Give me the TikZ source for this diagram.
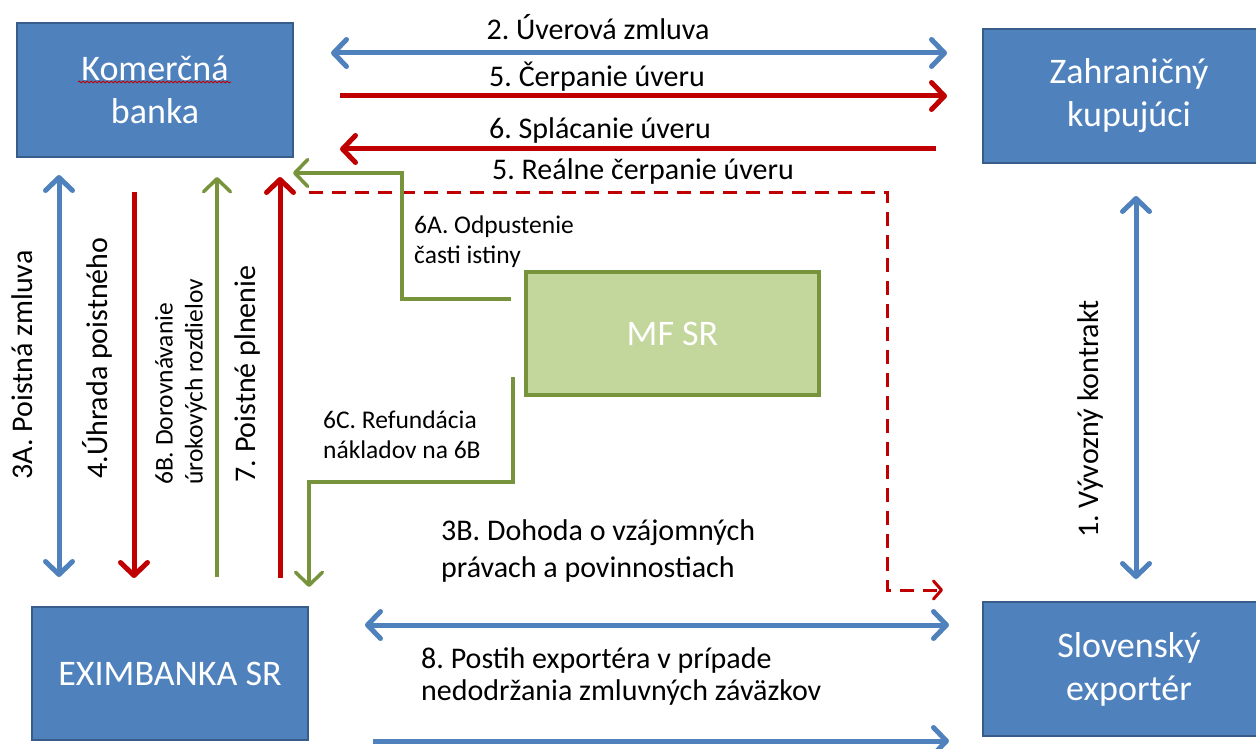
\documentclass[tikz,border=0pt]{standalone}
\usepackage{fontspec}
\setmainfont{Carlito}
\usetikzlibrary{arrows.meta,decorations.pathmorphing}
\definecolor{boxblue}{HTML}{4F81BD}
\definecolor{boxedge}{HTML}{385D8A}
\definecolor{arrred}{HTML}{C00000}
\definecolor{arrgreen}{HTML}{77933C}
\definecolor{mffill}{HTML}{C3D69B}
\frenchspacing
\tikzset{
  pbarb/.tip={Straight Barb[length=13pt,width=27pt,round]},
  sbarb/.tip={Straight Barb[length=8pt,width=18pt,round]},
  entity/.style={draw=boxedge, line width=2.5pt, fill=boxblue, text=white, align=center,
    font=\fontsize{36}{43}\selectfont, inner sep=0pt},
  mfbox/.style={draw=arrgreen, line width=4pt, fill=mffill, text=white, align=center,
    font=\fontsize{36}{43}\selectfont, inner sep=0pt},
  bluearr/.style={draw=boxblue, line width=5pt},
  redarr/.style={draw=arrred, line width=5pt},
  greenarr/.style={draw=arrgreen, line width=3.5pt},
  dashred/.style={draw=arrred, line width=3pt, dash pattern=on 14pt off 9pt},
  biglbl/.style={font=\fontsize{30}{37}\selectfont\frenchspacing, inner sep=0pt, align=left},
  smalllbl/.style={font=\fontsize{25.5}{30}\selectfont\frenchspacing, inner sep=0pt, align=left},
}
\begin{document}
\begin{tikzpicture}[x=1pt,y=-1pt]
\useasboundingbox (0,0) rectangle (1256,749);
\fill[white] (0,0) rectangle (1256,749);

% boxes
\node[entity, minimum width=276pt, minimum height=134pt] (kb) at (155,90) {Komerčná\\banka};
\node[entity, minimum width=292pt, minimum height=134pt] (zk) at (1129,96) {Zahraničný\\kupujúci};
\node[entity, minimum width=292pt, minimum height=134pt] (se) at (1129,669) {Slovenský\\exportér};
\node[entity, minimum width=276pt, minimum height=133pt] (ex) at (170,673.5) {EXIMBANKA SR};
\node[mfbox, minimum width=293pt, minimum height=123pt] (mf) at (672.5,333.5) {MF SR};

% spell-check underline
\draw[arrred, line width=0.8pt, decorate, decoration={snake, amplitude=0.9pt, segment length=4pt}]
  (78,82) -- (231,82);

% arrow end points
\coordinate (a2l) at (331,53);   \coordinate (a2r) at (947,53);
\coordinate (a5l) at (340,96);   \coordinate (a5r) at (947,96);
\coordinate (a6r) at (936,149);  \coordinate (a6l) at (340,149);
\coordinate (d0) at (309,192);   \coordinate (d1) at (887,192);
\coordinate (d2) at (887,590);   \coordinate (d3) at (943,590);
\coordinate (g0) at (511,299);   \coordinate (g1) at (402,299);
\coordinate (g2) at (402,173);   \coordinate (g3) at (293,173);
\coordinate (c0) at (513,377);   \coordinate (c1) at (513,482);
\coordinate (c2) at (309,482);   \coordinate (c3) at (309,587);
\coordinate (v3t) at (59,175);   \coordinate (v3b) at (59,577);
\coordinate (v4t) at (134,192);  \coordinate (v4b) at (134,578);
\coordinate (v6b) at (217,577);  \coordinate (v6t) at (217,177);
\coordinate (v7b) at (280,578);  \coordinate (v7t) at (280,177);
\coordinate (v1t) at (1136,196); \coordinate (v1b) at (1136,579);
\coordinate (h8l) at (365,625);  \coordinate (h8r) at (949,625);
\coordinate (hbl) at (373,741);  \coordinate (hbr) at (949,741);

% horizontal arrows top
\draw[bluearr, pbarb-pbarb] (a2l) -- (a2r);
\draw[redarr, -pbarb] (a5l) -- (a5r);
\draw[redarr, -pbarb] (a6r) -- (a6l);
\draw[dashred, -sbarb] (d0) -- (d1) -- (d2) -- (d3);
\draw[greenarr, -pbarb] (g0) -- (g1) -- (g2) -- (g3);
\draw[greenarr, -pbarb] (c0) -- (c1) -- (c2) -- (c3);

% vertical arrows
\draw[bluearr, pbarb-pbarb] (v3t) -- (v3b);
\draw[redarr, -pbarb] (v4t) -- (v4b);
\draw[greenarr, -pbarb] (v6b) -- (v6t);
\draw[redarr, -pbarb] (v7b) -- (v7t);
\draw[bluearr, pbarb-pbarb] (v1t) -- (v1b);

% bottom arrows
\draw[bluearr, pbarb-pbarb] (h8l) -- (h8r);
\draw[bluearr, -pbarb] (hbl) -- (hbr);

% labels
\node[biglbl] (l2) at (598,27) {2. Úverová zmluva};
\node[biglbl] (l5) at (597,77) {5. Čerpanie úveru};
\node[biglbl] (l6) at (600,131) {6. Splácanie úveru};
\node[biglbl] (l5r) at (643,172) {5. Reálne čerpanie úveru};
\node[smalllbl, anchor=west] (l6a) at (414,242) {6A. Odpustenie\\časti istiny};
\node[smalllbl, anchor=west] (l6c) at (323,435) {6C. Refundácia\\nákladov na 6B};
\node[biglbl, anchor=west, font=\fontsize{30}{37}\selectfont] (l3b) at (441,551) {3B. Dohoda o vzájomných\\právach a povinnostiach};
\node[biglbl, anchor=west, font=\fontsize{30}{32}\selectfont] (l8) at (421,676) {8. Postih exportéra v prípade\\nedodržania zmluvných záväzkov};
\node[biglbl, rotate=90] (l3a) at (22,365) {3A. Poistná zmluva};
\node[biglbl, rotate=90] (l4) at (97,358) {4.Úhrada poistného};
\node[smalllbl, rotate=90, anchor=west] (l6b) at (181,485) {6B. Dorovnávanie\\úrokových rozdielov};
\node[biglbl, rotate=90] (l7) at (247,374) {7. Poistné plnenie};
\node[biglbl, rotate=90] (l1) at (1090,419) {1. Vývozný kontrakt};
\end{tikzpicture}
\end{document}
